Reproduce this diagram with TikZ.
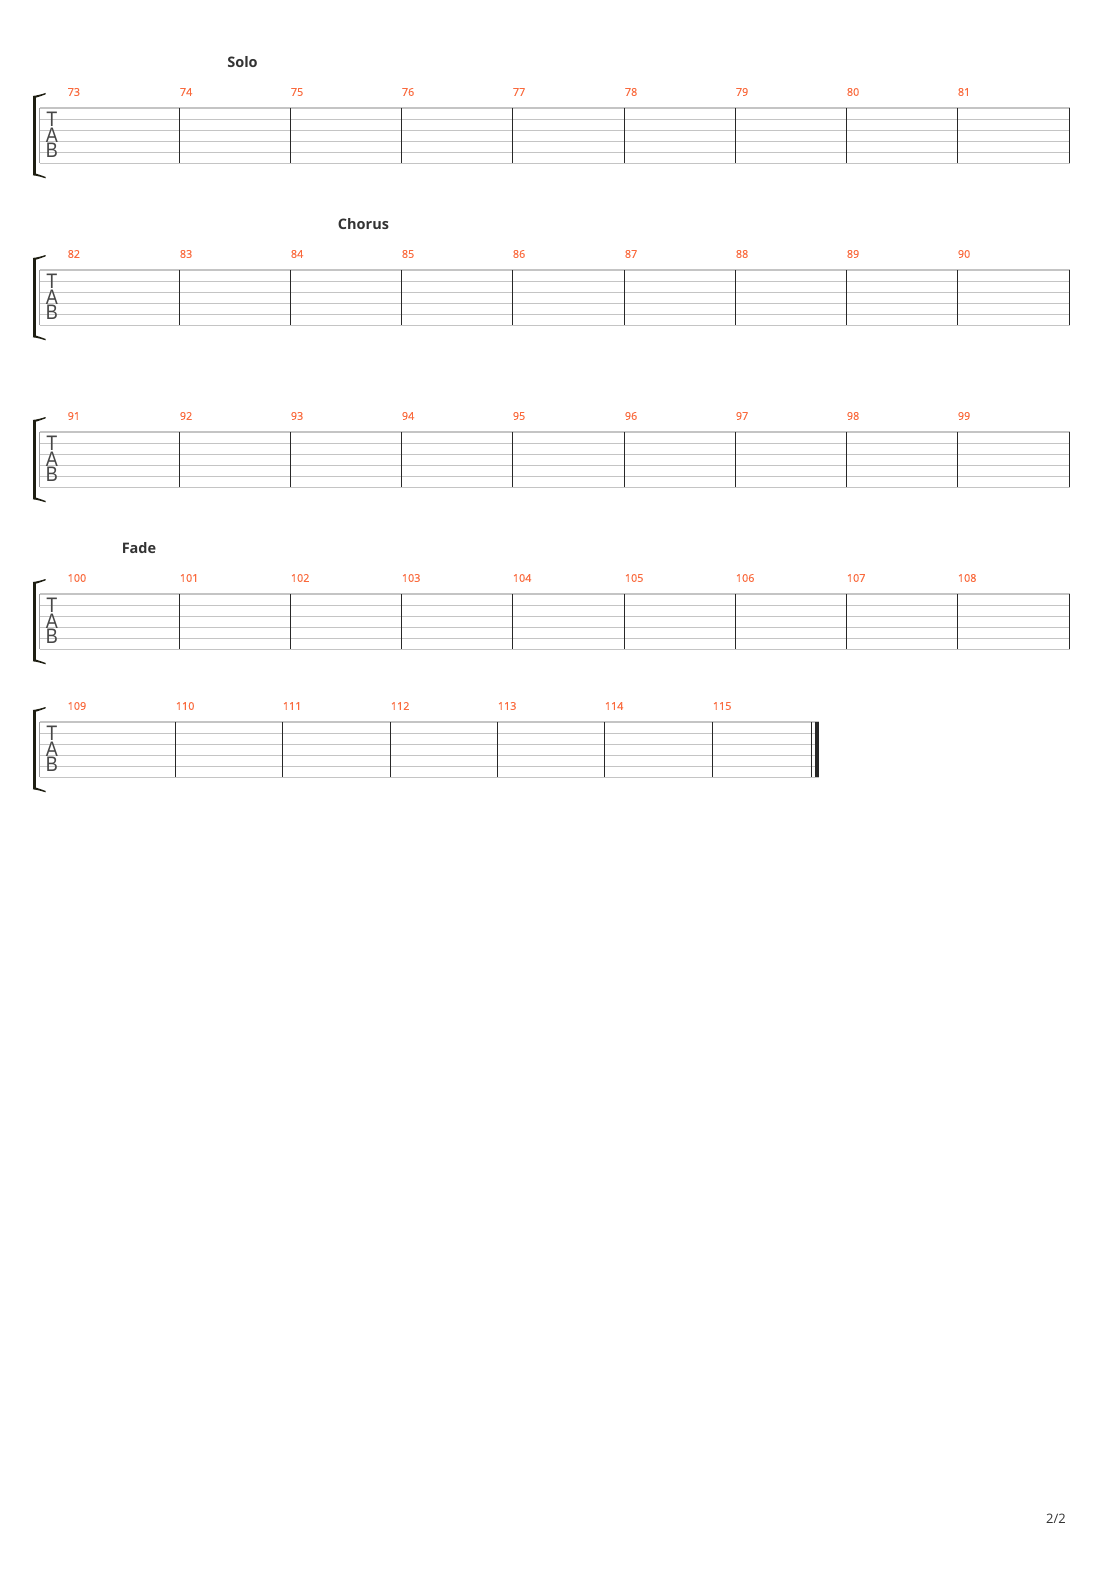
\documentclass[tikz,border=0pt]{standalone}
\usepackage{fontspec}
\setmainfont{Open Sans}
\newfontfamily\clefface[FakeStretch=0.86]{Liberation Sans}
\newfontfamily\numface[FakeBold=0.35]{Open Sans}
\definecolor{staffgray}{RGB}{196,196,196}
\definecolor{bardark}{RGB}{40,40,40}
\definecolor{numorange}{RGB}{250,105,60}
\definecolor{labeldark}{RGB}{51,51,51}
\definecolor{brk}{RGB}{30,30,18}
\newcommand\staffbase[3]{% #1 top y, #2 end x of lines, #3 name prefix
  \foreach \k in {0,...,5} \draw[stline] (39.5,{#1+\k*11.06}) -- (#2,{#1+\k*11.06});
  \draw[startl] (39.6,#1) -- (39.6,{#1+55.3});
  \fill[brk] (32.8,{#1-12}) rectangle (35.8,{#1+67.3});
  \fill[brk] (32.8,{#1-12}) .. controls (37,{#1-12.5}) and (41,{#1-13.5}) .. (45.5,{#1-15}) -- (45.5,{#1-13.6}) .. controls (41,{#1-12}) and (38,{#1-10.8}) .. (35.8,{#1-10.3}) -- cycle;
  \fill[brk] (32.8,{#1+67.3}) .. controls (37,{#1+67.8}) and (41,{#1+68.8}) .. (45.5,{#1+70.3}) -- (45.5,{#1+68.9}) .. controls (41,{#1+67.3}) and (38,{#1+66.1}) .. (35.8,{#1+65.6}) -- cycle;
  \node[tabl] (#3T) at (52,{#1+11.2}) {T};
  \node[tabl] (#3A) at (52,{#1+26.8}) {A};
  \node[tabl] (#3B) at (52,{#1+42.4}) {B};
}
\newcommand\fullstaff[3]{% #1 top y, #2 first measure number, #3 name
  \staffbase{#1}{1070}{#3}
  \node[mnum] (#3n0) at (67.5,{#1-16}) {#2};
  \foreach \i/\bx in {1/179.5,2/290.5,3/401.5,4/512.5,5/624.5,6/735.5,7/846.5,8/957.5} {
    \pgfmathtruncatemacro\nn{#2+\i}
    \draw[barl] (\bx,#1) -- (\bx,{#1+55.3});
    \node[mnum] (#3n\i) at ({\bx+0.2},{#1-16}) {\nn};
  }
  \draw[barl] (1069.5,#1) -- (1069.5,{#1+55.3});
}
\begin{document}
\begin{tikzpicture}[x=1pt,y=-1pt,
  stline/.style={draw=staffgray,line width=1.1pt},
  startl/.style={draw=staffgray!80!black,line width=1.3pt},
  barl/.style={draw=bardark,line width=1.2pt},
  mnum/.style={text=numorange,font=\numface\fontsize{10.8}{12}\selectfont,anchor=west,inner sep=0pt},
  sect/.style={text=labeldark,font=\bfseries\fontsize{14.5}{16}\selectfont,inner sep=0pt},
  tabl/.style={text=labeldark!90!white,font=\clefface\fontsize{21}{22}\selectfont,inner sep=0pt},
  pnum/.style={text=labeldark,font=\fontsize{13}{14}\selectfont,inner sep=0pt}]
\useasboundingbox[fill=white] (0,0) rectangle (1110,1570);

\fullstaff{108}{73}{s1}
\fullstaff{270}{82}{s2}
\fullstaff{432}{91}{s3}
\fullstaff{594}{100}{s4}

% last staff
\staffbase{722}{819.3}{s5}
\node[mnum] (s5n0) at (67.5,706) {109};
\foreach \i/\bx in {1/175.5,2/282.5,3/390.5,4/497.5,5/604.5,6/712.5} {
  \pgfmathtruncatemacro\nn{109+\i}
  \draw[barl] (\bx,722) -- (\bx,777.3);
  \node[mnum] (s5n\i) at ({\bx+0.2},706) {\nn};
}
\draw[barl] (811.5,722) -- (811.5,777.3);
\fill[bardark] (815,722) rectangle (819.3,777.3);

\node[sect] (solo) at (242.5,62.5) {Solo};
\node[sect] (chorus) at (363.5,224.5) {Chorus};
\node[sect] (fade) at (139,548.5) {Fade};

\node[pnum] (page) at (1056,1518.5) {2/2};
\end{tikzpicture}
\end{document}
